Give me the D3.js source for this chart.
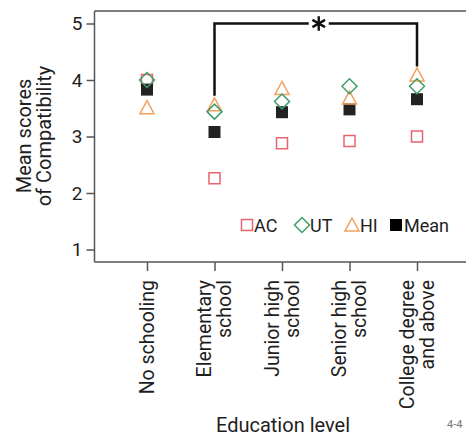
<!DOCTYPE html>
<html><head><meta charset="utf-8">
<script src="https://cdn.jsdelivr.net/npm/d3@7"></script>
<style>body{margin:0;background:#fff}svg{display:block}text{font-family:Roboto,"DejaVu Sans",sans-serif;fill:#1e1e1e}</style>
</head><body><div id="chart"></div>
<script>
const categories = ["No schooling", "Elementary school", "Junior high school", "Senior high school", "College degree and above"];
const categoryLines = [["No schooling"], ["Elementary", "school"], ["Junior high", "school"], ["Senior high", "school"], ["College degree", "and above"]];
const acValues = [4.00, 2.26, 2.88, 2.92, 3.00];
const utValues = [4.00, 3.44, 3.62, 3.89, 3.89];
const hiValues = [3.51, 3.56, 3.85, 3.68, 4.09];
const meanValues = [3.83, 3.08, 3.43, 3.48, 3.66];
const yTicks = [1, 2, 3, 4, 5];
const seriesNames = ["AC", "UT", "HI", "Mean"];
const bracket = {from: 1, to: 4, top: 5.0, leftEnd: 3.72, rightEnd: 4.24};

const W = 466, H = 438;
const svg = d3.select("#chart").append("svg").attr("width", W).attr("height", H);

const x = d3.scalePoint().domain(categories).range([147, 417]);
const y = d3.scaleLinear().domain([1, 5]).range([249.5, 23.5]);

const colors = {AC: "#e8636e", UT: "#3f9e6c", HI: "#f3a15c", Mean: "#222"};

// frame
const frameColor = "#555";
svg.append("line").attr("x1", 94.5).attr("x2", W).attr("y1", 11).attr("y2", 11).attr("stroke", frameColor).attr("stroke-width", 1.5);

// y axis
const yAxis = svg.append("g").attr("transform", "translate(94.5,0)")
  .call(d3.axisLeft(y).tickValues(yTicks).tickFormat(d3.format("d")).tickSize(8).tickPadding(4));
yAxis.select(".domain").attr("d", `M0,11V262`).attr("stroke", frameColor).attr("stroke-width", 1.5);
yAxis.selectAll(".tick line").attr("stroke", frameColor).attr("stroke-width", 1.5);
yAxis.selectAll(".tick text").attr("font-size", 19).attr("fill", "#1e1e1e").attr("font-family", "Roboto");

// x axis
const xAxis = svg.append("g").attr("transform", "translate(0,262)")
  .call(d3.axisBottom(x).tickSize(9).tickFormat(""));
xAxis.select(".domain").attr("d", `M94.5,0H${W}`).attr("stroke", frameColor).attr("stroke-width", 1.5);
xAxis.selectAll(".tick line").attr("stroke", frameColor).attr("stroke-width", 1.5);

// x labels
const lh = 20;
categories.forEach((c, i) => {
  const lines = categoryLines[i];
  const t = svg.append("text").attr("transform", `translate(${x(c)},280) rotate(-90)`)
    .attr("text-anchor", "end").attr("font-size", 19.5);
  lines.forEach((l, j) => {
    t.append("tspan").attr("x", 0)
      .attr("dy", j === 0 ? (-(lines.length - 1) / 2 * lh + 6.5) : lh).text(l);
  });
});

// axis titles
svg.append("text").attr("x", 283).attr("y", 432).attr("text-anchor", "middle").attr("font-size", 20).text("Education level");
const yt = svg.append("text").attr("transform", "translate(0,136) rotate(-90)").attr("text-anchor", "middle").attr("font-size", 20);
yt.append("tspan").attr("x", 0).attr("y", 31).text("Mean scores");
yt.append("tspan").attr("x", 0).attr("y", 51).text("of Compatibility");
svg.append("text").attr("x", 447).attr("y", 428).attr("font-size", 11).style("fill", "#777").text("4-4");

// bracket
const bl = x(categories[bracket.from]), br = x(categories[bracket.to]);
svg.append("path")
  .attr("d", `M${bl},${y(bracket.leftEnd)}V${y(bracket.top)}H${br}V${y(bracket.rightEnd)}`)
  .attr("fill", "none").attr("stroke", "#111").attr("stroke-width", 2.5);
const ax = (bl + br) / 2 + 3;
svg.append("rect").attr("x", ax - 10).attr("y", y(bracket.top) - 8).attr("width", 20).attr("height", 16).attr("fill", "#fff");
svg.append("path").attr("transform", `translate(${ax},${y(bracket.top)})`)
  .attr("d", d3.symbol(d3.symbolAsterisk, 150)()).attr("fill", "none").attr("stroke", "#111").attr("stroke-width", 2.4);

// markers
function drawSeries(name, values, shape, fill) {
  svg.append("g").selectAll("path").data(values).join("path")
    .attr("transform", (d, i) => `translate(${x(categories[i])},${y(d)})`)
    .attr("d", shape)
    .attr("fill", fill ? colors[name] : "none")
    .attr("stroke", colors[name]).attr("stroke-width", fill ? 0 : 1.5);
}
const sq = d3.symbol(d3.symbolSquare, 121)();
const msq = d3.symbol(d3.symbolSquare, 144)();
const dia = "M0,-7.5L7.5,0L0,7.5L-7.5,0Z";
const tri = "M0,-7L7,6L-7,6Z";
drawSeries("AC", acValues, sq, false);
drawSeries("Mean", meanValues, msq, true);
drawSeries("HI", hiValues, tri, false);
drawSeries("UT", utValues, dia, false);

// legend
const ly = 225;
const legend = [
  {name: "AC", shape: sq, fill: false, mx: 247, tx: 254},
  {name: "UT", shape: dia, fill: false, mx: 302, tx: 310},
  {name: "HI", shape: tri, fill: false, mx: 352, tx: 360},
  {name: "Mean", shape: msq, fill: true, mx: 396, tx: 404}
];
legend.forEach(l => {
  svg.append("path").attr("transform", `translate(${l.mx},${ly})`).attr("d", l.shape)
    .attr("fill", l.fill ? "#000" : "#fff").attr("stroke", l.fill ? "none" : colors[l.name]).attr("stroke-width", 1.5);
  svg.append("text").attr("x", l.tx).attr("y", ly + 6.5).attr("font-size", 18).text(l.name);
});
</script></body></html>
